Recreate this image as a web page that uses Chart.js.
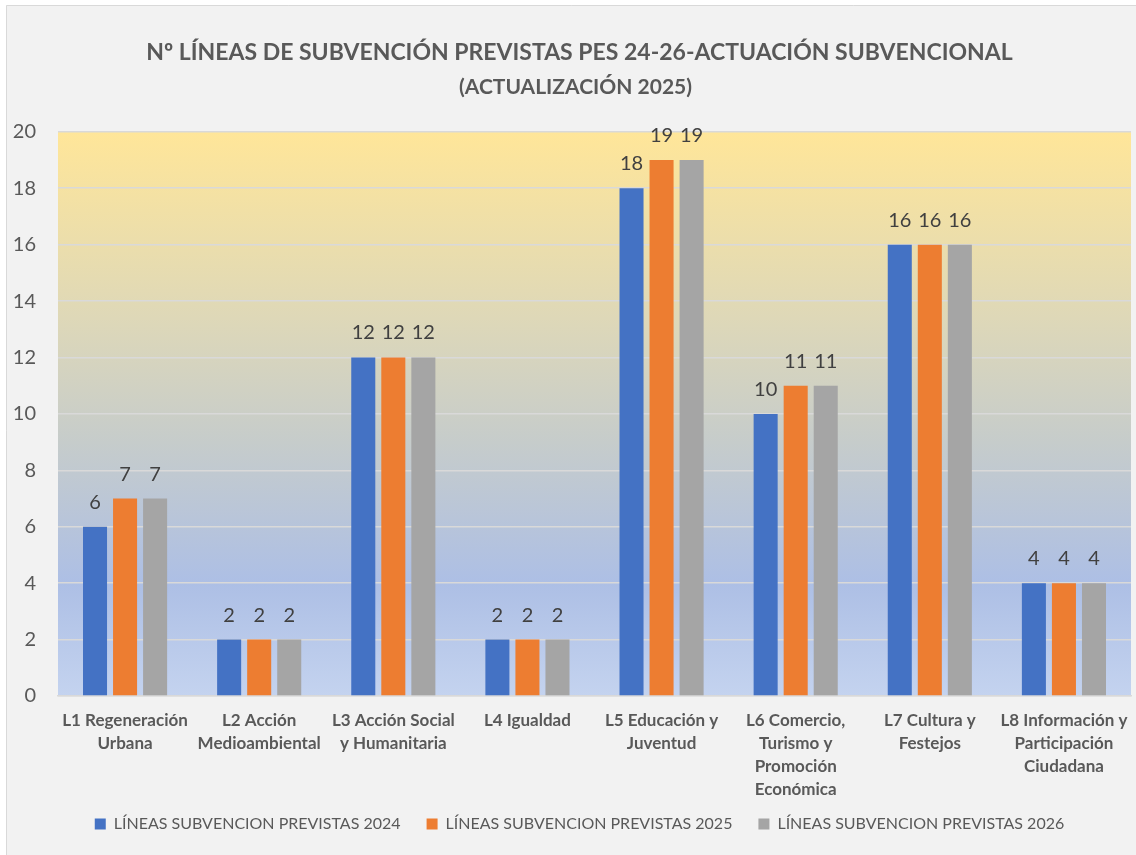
<!DOCTYPE html>
<html>
<head>
<meta charset="utf-8">
<script src="https://cdn.jsdelivr.net/npm/chart.js@4.4.1/dist/chart.umd.min.js"></script>
<style>
  html, body { margin: 0; padding: 0; background: #ffffff; }
  #wrap { width: 1136px; height: 855px; position: relative; }
</style>
</head>
<body>
<div id="wrap"><canvas id="c"></canvas></div>
<script>
const categories = [
  ["L1 Regeneración", "Urbana"],
  ["L2 Acción", "Medioambiental"],
  ["L3 Acción Social", "y Humanitaria"],
  ["L4 Igualdad"],
  ["L5 Educación y", "Juventud"],
  ["L6 Comercio,", "Turismo y", "Promoción", "Económica"],
  ["L7 Cultura y", "Festejos"],
  ["L8 Información y", "Participación", "Ciudadana"]
];
const seriesNames = [
  "LÍNEAS SUBVENCION PREVISTAS 2024",
  "LÍNEAS SUBVENCION PREVISTAS 2025",
  "LÍNEAS SUBVENCION PREVISTAS 2026"
];
const values2024 = [6, 2, 12, 2, 18, 10, 16, 4];
const values2025 = [7, 2, 12, 2, 19, 11, 16, 4];
const values2026 = [7, 2, 12, 2, 19, 11, 16, 4];
const titleText = "Nº LÍNEAS DE SUBVENCIÓN PREVISTAS PES 24-26-ACTUACIÓN SUBVENCIONAL";
const subtitleText = "(ACTUALIZACIÓN 2025)";

const FONT = "Lato, 'Open Sans', sans-serif";

function shiftBox(box, dx, dy) {
  if (!box) return;
  box.left += dx; box.right += dx;
  box.top += dy; box.bottom += dy;
}

const bgPlugin = {
  id: 'bgPlugin',
  afterLayout(chart) {
    shiftBox(chart.titleBlock, 10, 0);
    const sub = chart.boxes.find(b => b !== chart.titleBlock && b.constructor && b.options && b.options.text === subtitleText);
    shiftBox(sub, 6, 0);
    shiftBox(chart.legend, 10, -9);
  },
  beforeDraw(chart) {
    const ctx = chart.ctx;
    ctx.save();
    ctx.fillStyle = '#ffffff';
    ctx.fillRect(0, 0, chart.width, chart.height);
    ctx.fillStyle = '#f2f2f2';
    ctx.fillRect(6, 5, chart.width - 6, chart.height - 5);
    ctx.strokeStyle = '#d9d9d9';
    ctx.lineWidth = 1;
    ctx.beginPath();
    ctx.moveTo(6.5, chart.height);
    ctx.lineTo(6.5, 5.5);
    ctx.lineTo(chart.width, 5.5);
    ctx.stroke();
    const a = chart.chartArea;
    const g = ctx.createLinearGradient(0, a.top, 0, a.bottom);
    g.addColorStop(0, '#ffe699');
    g.addColorStop(0.33, '#ded8b8');
    g.addColorStop(0.55, '#c6cccb');
    g.addColorStop(0.8, '#adbfe5');
    g.addColorStop(1, '#c4d3ef');
    ctx.fillStyle = g;
    ctx.fillRect(a.left, a.top, a.right - a.left, a.bottom - a.top);
    ctx.restore();
  }
};

const valueLabels = {
  id: 'valueLabels',
  afterDatasetsDraw(chart) {
    const ctx = chart.ctx;
    ctx.save();
    ctx.font = "20px " + FONT;
    ctx.fillStyle = '#404040';
    ctx.textAlign = 'center';
    ctx.textBaseline = 'alphabetic';
    chart.data.datasets.forEach((ds, i) => {
      const meta = chart.getDatasetMeta(i);
      meta.data.forEach((el, j) => {
        ctx.fillText(String(ds.data[j]), el.x, el.y - 18);
      });
    });
    ctx.restore();
  }
};

new Chart(document.getElementById('c'), {
  type: 'bar',
  data: {
    labels: categories,
    datasets: [
      { label: seriesNames[0], data: values2024, backgroundColor: '#4472c4' },
      { label: seriesNames[1], data: values2025, backgroundColor: '#ed7d31' },
      { label: seriesNames[2], data: values2026, backgroundColor: '#a5a5a5' }
    ]
  },
  options: {
    responsive: true,
    maintainAspectRatio: false,
    animation: false,
    datasets: { bar: { categoryPercentage: 0.672, barPercentage: 0.8 } },
    layout: { padding: { left: 8, right: 5, top: 0, bottom: 4 } },
    plugins: {
      title: {
        display: true,
        text: titleText,
        color: '#595959',
        font: { family: FONT, size: 23, weight: 'bold' },
        padding: { top: 39, bottom: 8 }
      },
      subtitle: {
        display: true,
        text: subtitleText,
        color: '#595959',
        font: { family: FONT, size: 21, weight: 'bold' },
        padding: { top: 0, bottom: 32 }
      },
      legend: {
        position: 'bottom',
        labels: {
          boxWidth: 11,
          boxHeight: 11,
          padding: 26,
          color: '#595959',
          font: { family: FONT, size: 16 }
        }
      },
      tooltip: { enabled: false }
    },
    scales: {
      x: {
        grid: { display: false, drawTicks: false },
        border: { display: true, color: '#d9d9d9', width: 1.5 },
        ticks: {
          color: '#595959',
          padding: 13,
          autoSkip: false,
          maxRotation: 0,
          font: { family: FONT, size: 17, weight: 'bold', lineHeight: 1.35 }
        },
        afterFit(scale) {
          scale.height = 103;
          scale.paddingLeft = 0;
          scale.paddingRight = 0;
        }
      },
      y: {
        min: 0,
        max: 20,
        grid: { color: '#d9d9d9', lineWidth: 1.5, drawTicks: false },
        border: { display: false },
        ticks: {
          stepSize: 2,
          color: '#595959',
          padding: 22,
          font: { family: FONT, size: 20 }
        },
        afterFit(scale) { scale.width = 50; }
      }
    }
  },
  plugins: [bgPlugin, valueLabels]
});
</script>
</body>
</html>
